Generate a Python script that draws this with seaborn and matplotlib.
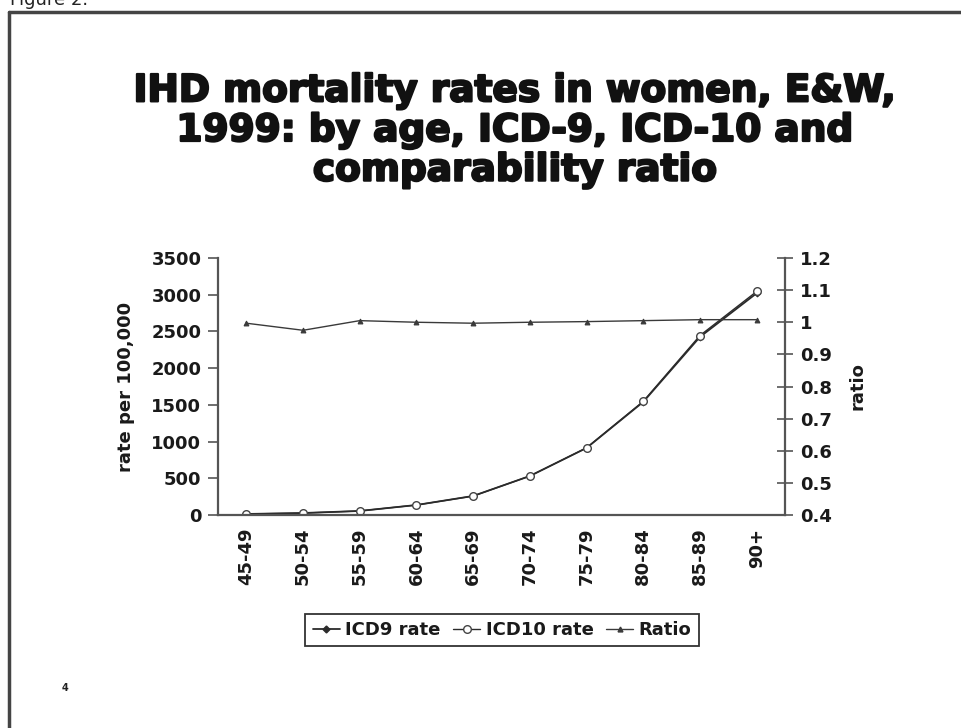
import matplotlib
matplotlib.use("Agg")
import matplotlib.pyplot as plt
import matplotlib.lines as mlines
import matplotlib.patheffects as pe
import seaborn as sns
import pandas as pd

# Age bands and rates (per 100,000) for women, England & Wales, 1999
age_groups = ["45-49", "50-54", "55-59", "60-64", "65-69",
              "70-74", "75-79", "80-84", "85-89", "90+"]
icd9_rate = [14, 27, 55, 136, 259, 531, 913, 1540, 2425, 3020]
icd10_rate = [14, 26, 55, 136, 258, 531, 915, 1548, 2444, 3044]
ratio = [0.997, 0.975, 1.005, 1.0, 0.997, 1.0, 1.002, 1.005, 1.008, 1.008]

rate_ticks = [0, 500, 1000, 1500, 2000, 2500, 3000, 3500]
ratio_ticks = [0.4, 0.5, 0.6, 0.7, 0.8, 0.9, 1.0, 1.1, 1.2]
ratio_tick_labels = ["0.4", "0.5", "0.6", "0.7", "0.8", "0.9", "1", "1.1", "1.2"]

df = pd.DataFrame({"age": age_groups, "icd9": icd9_rate,
                   "icd10": icd10_rate, "ratio": ratio})

sns.set_theme(style="white")
plt.rcParams["font.family"] = ["DejaVu Sans"]

W, H = 961, 728
fig = plt.figure(figsize=(W / 100, H / 100), dpi=100)
fig.patch.set_facecolor("white")

ax = fig.add_axes([218 / W, 1 - 515 / H, (785 - 218) / W, (515 - 258) / H])
ax2 = ax.twinx()

line_col = "#2b2b2b"
sns.lineplot(data=df, x="age", y="icd9", ax=ax, color=line_col, lw=1.3,
             marker="D", markersize=3.5, markerfacecolor=line_col,
             markeredgecolor=line_col, sort=False)
sns.lineplot(data=df, x="age", y="icd10", ax=ax, color=line_col, lw=1.0,
             marker="o", markersize=5.5, markerfacecolor="white",
             markeredgecolor="#444444", markeredgewidth=1.0, sort=False)
sns.lineplot(data=df, x="age", y="ratio", ax=ax2, color="#3a3a3a", lw=1.0,
             marker="^", markersize=3.5, markerfacecolor="#3a3a3a",
             markeredgecolor="#3a3a3a", sort=False)

tick_font = dict(fontsize=13, fontweight="bold", color="#1a1a1a")

ax.set_xlim(-0.5, len(age_groups) - 0.5)
ax.set_ylim(0, 3500)
ax2.set_ylim(0.4, 1.2)
ax.set_yticks(rate_ticks)
ax.set_yticklabels([str(t) for t in rate_ticks], **tick_font)
ax2.set_yticks(ratio_ticks)
ax2.set_yticklabels(ratio_tick_labels, **tick_font)

# category labels under each band, tick marks on the band boundaries
ax.set_xticks(range(len(age_groups)))
ax.set_xticklabels(age_groups, rotation=90, **tick_font)
ax.tick_params(axis="x", which="major", length=0, pad=9)
ax.set_xticks([i + 0.5 for i in range(len(age_groups))], minor=True)
ax.tick_params(axis="x", which="minor", direction="out", length=6,
               width=1.2, color="#555555")
ax.tick_params(axis="y", direction="out", length=7, width=1.2,
               color="#555555", pad=5)
ax2.tick_params(axis="y", direction="inout", length=12, width=1.2,
                color="#555555", pad=5)

ax.set_xlabel("")
ax.set_ylabel("rate per 100,000", labelpad=12, **tick_font)
ax2.set_ylabel("ratio", labelpad=12, **tick_font)

for a in (ax, ax2):
    a.spines["top"].set_visible(False)
    a.grid(False)
    a.set_facecolor("none")
ax.spines["right"].set_visible(False)
ax2.spines["left"].set_visible(False)
ax2.spines["bottom"].set_visible(False)
for sp in (ax.spines["left"], ax.spines["bottom"], ax2.spines["right"]):
    sp.set_color("#555555")
    sp.set_linewidth(1.6)

# Title in a heavy face
fig.text(515 / W, 1 - 131 / H,
         "IHD mortality rates in women, E&W,\n1999: by age, ICD-9, ICD-10 and\ncomparability ratio",
         ha="center", va="center", fontsize=27, fontweight="bold",
         linespacing=1.13, color="#111111",
         path_effects=[pe.withStroke(linewidth=1.6, foreground="#111111")])

# Legend
handles = [
    mlines.Line2D([], [], color=line_col, lw=1.3, marker="D", markersize=3.5,
                  markerfacecolor=line_col),
    mlines.Line2D([], [], color=line_col, lw=1.0, marker="o", markersize=5.5,
                  markerfacecolor="white", markeredgecolor="#444444"),
    mlines.Line2D([], [], color="#3a3a3a", lw=1.0, marker="^", markersize=3.5,
                  markerfacecolor="#3a3a3a"),
]
leg = fig.legend(handles, ["ICD9 rate", "ICD10 rate", "Ratio"],
                 loc="center", bbox_to_anchor=(502 / W, 1 - 630 / H), ncol=3,
                 frameon=True, fancybox=False, framealpha=1,
                 edgecolor="#333333", handlelength=1.5, handletextpad=0.3,
                 columnspacing=0.7, borderpad=0.4,
                 prop={"weight": "bold", "size": 13})
leg.get_frame().set_linewidth(1.3)
for t in leg.get_texts():
    t.set_color("#1a1a1a")

# Page frame and page furniture
fig.add_artist(mlines.Line2D([9 / W, 9 / W], [0, 1 - 12 / H],
                             transform=fig.transFigure, color="#444444", lw=2.5))
fig.add_artist(mlines.Line2D([9 / W, 1], [1 - 12 / H, 1 - 12 / H],
                             transform=fig.transFigure, color="#444444", lw=2.5))
fig.text(10 / W, 1 - 5 / H, "Figure 2.", ha="left", va="baseline",
         fontsize=13, color="#222222")
fig.text(65 / W, 1 - 688 / H, "4", ha="center", va="center",
         fontsize=7, fontweight="bold", color="#222222")

fig.savefig("out.png", dpi=100)
